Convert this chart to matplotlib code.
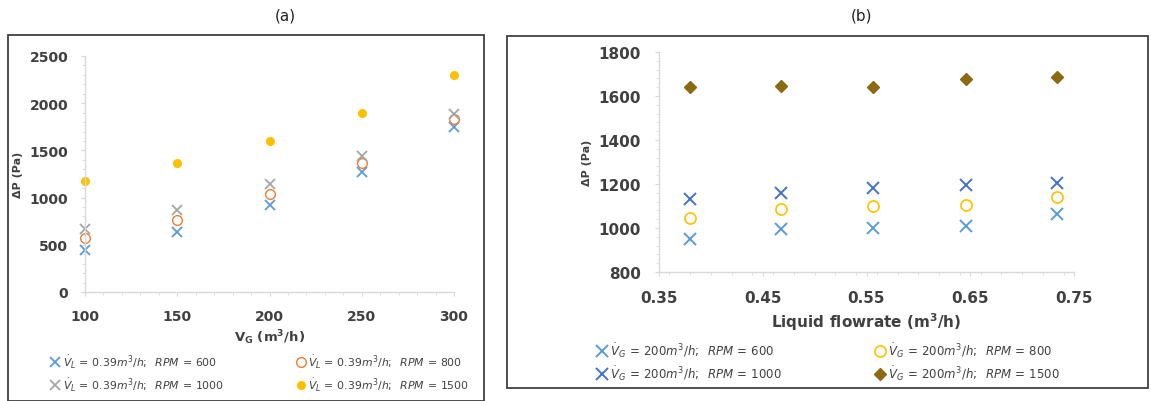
import matplotlib.pyplot as plt
from matplotlib.patches import Rectangle
from matplotlib.ticker import MultipleLocator, FixedLocator

# panel (a): pressure drop vs gas flowrate
vg = [100, 150, 200, 250, 300]
dp_a_600 = [440, 640, 920, 1270, 1750]
dp_a_800 = [570, 760, 1040, 1370, 1830]
dp_a_1000 = [670, 870, 1140, 1440, 1890]
dp_a_1500 = [1180, 1370, 1600, 1900, 2300]

# panel (b): pressure drop vs liquid flowrate
vl = [0.38, 0.468, 0.556, 0.646, 0.734]
dp_b_600 = [948, 997, 1002, 1011, 1065]
dp_b_800 = [1047, 1088, 1098, 1103, 1141]
dp_b_1000 = [1130, 1159, 1182, 1194, 1205]
dp_b_1500 = [1641, 1645, 1639, 1679, 1685]

rpm = [600, 800, 1000, 1500]
vl_ticks = [0.35, 0.45, 0.55, 0.65, 0.75]

W, H = 1151, 402
fig = plt.figure(figsize=(W / 100, H / 100), dpi=100)
fig.patch.set_facecolor('white')

def frac(x0, x1, ytop, ybot):
    return [x0 / W, 1 - ybot / H, (x1 - x0) / W, (ybot - ytop) / H]

# panel borders
fig.patches.append(Rectangle((8 / W, 0), (484 - 8) / W, (H - 36) / H,
                             transform=fig.transFigure, fill=False,
                             edgecolor='#404040', lw=1.3))
fig.patches.append(Rectangle((507 / W, (H - 389) / H), (1148 - 507) / W, (389 - 37) / H,
                             transform=fig.transFigure, fill=False,
                             edgecolor='#404040', lw=1.3))

fig.text(285 / W, 1 - 16 / H, '(a)', ha='center', va='center', fontsize=11, color='#222222')
fig.text(862 / W, 1 - 16 / H, '(b)', ha='center', va='center', fontsize=11, color='#222222')


def style_axis(ax, fs):
    for s in ['top', 'right']:
        ax.spines[s].set_visible(False)
    for s in ['left', 'bottom']:
        ax.spines[s].set_color('#D9D9D9')
        ax.spines[s].set_linewidth(1.0)
    ax.tick_params(which='both', length=3, color='#D9D9D9', direction='out')
    ax.tick_params(which='minor', length=2)
    for lab in ax.get_xticklabels() + ax.get_yticklabels():
        lab.set_fontsize(fs)
        lab.set_fontweight('bold')
        lab.set_color('#404040')


# ---- (a)
ax1 = fig.add_axes(frac(85, 454, 57, 293))
lab_a = r'$\dot{V}_L\,=\,0.39m^3/h;\;\;RPM\,=\,%d$'
h600, = ax1.plot(vg, dp_a_600, 'x', color='#5B9BD5', ms=7, mew=1.3, label=lab_a % rpm[0])
h800, = ax1.plot(vg, dp_a_800, 'o', mfc='none', mec='#ED7D31', ms=7, mew=1.0, label=lab_a % rpm[1])
h1000, = ax1.plot(vg, dp_a_1000, 'x', color='#A5A5A5', ms=7, mew=1.3, label=lab_a % rpm[2])
h1500, = ax1.plot(vg, dp_a_1500, 'o', color='#FFC000', ms=5.5, label=lab_a % rpm[3])
for h in (h600, h800, h1000, h1500):
    h.set_clip_on(False)
ax1.set_xlim(100, 300)
ax1.set_ylim(0, 2500)
ax1.xaxis.set_major_locator(MultipleLocator(50))
ax1.xaxis.set_minor_locator(MultipleLocator(10))
ax1.yaxis.set_major_locator(MultipleLocator(500))
ax1.yaxis.set_minor_locator(MultipleLocator(100))
ax1.tick_params(axis='x', pad=9)
ax1.tick_params(axis='y', pad=9)
style_axis(ax1, 10)
ax1.set_xlabel(r'V$_\mathregular{G}$ (m$^\mathregular{3}$/h)', fontsize=9.5, fontweight='bold',
               color='#404040', labelpad=3)
ax1.set_ylabel(r'ΔP (Pa)', fontsize=8, fontweight='bold', color='#404040', labelpad=5)
ax1.legend(handles=[h600, h1000, h800, h1500], ncol=2, frameon=False, fontsize=7.8,
           loc='upper left', bbox_to_anchor=(-0.125, -0.216), columnspacing=6.5,
           handletextpad=0.1, handlelength=1.2, labelspacing=0.55, labelcolor='#404040')

# ---- (b)
ax2 = fig.add_axes(frac(659, 1074, 53, 273))
lab_b = r'$\dot{V}_G\,=\,200m^3/h;\;\;RPM\,=\,%d$'
g600, = ax2.plot(vl, dp_b_600, 'x', color='#5B9BD5', ms=8, mew=1.4, label=lab_b % rpm[0])
g800, = ax2.plot(vl, dp_b_800, 'o', mfc='none', mec='#FFC000', ms=8, mew=1.2, label=lab_b % rpm[1])
g1000, = ax2.plot(vl, dp_b_1000, 'x', color='#4472C4', ms=8.5, mew=1.4, label=lab_b % rpm[2])
g1500, = ax2.plot(vl, dp_b_1500, 'D', color='#8C6A12', ms=6, label=lab_b % rpm[3])
ax2.set_xlim(0.35, 0.75)
ax2.set_ylim(800, 1800)
ax2.xaxis.set_major_locator(FixedLocator(vl_ticks))
ax2.xaxis.set_minor_locator(MultipleLocator(0.02))
ax2.yaxis.set_major_locator(MultipleLocator(200))
ax2.yaxis.set_minor_locator(MultipleLocator(40))
ax2.tick_params(axis='x', pad=10)
ax2.tick_params(axis='y', pad=10)
style_axis(ax2, 11)
ax2.set_xlabel(r'Liquid flowrate (m$^\mathregular{3}$/h)', fontsize=11, fontweight='bold',
               color='#404040', labelpad=4)
ax2.set_ylabel(r'ΔP (Pa)', fontsize=8, fontweight='bold', color='#404040', labelpad=5)
ax2.legend(handles=[g600, g1000, g800, g1500], ncol=2, frameon=False, fontsize=8.5,
           loc='upper left', bbox_to_anchor=(-0.18, -0.265), columnspacing=7.7,
           handletextpad=0.1, handlelength=1.2, labelspacing=0.35, labelcolor='#404040')

fig.savefig('out.png', dpi=100)
